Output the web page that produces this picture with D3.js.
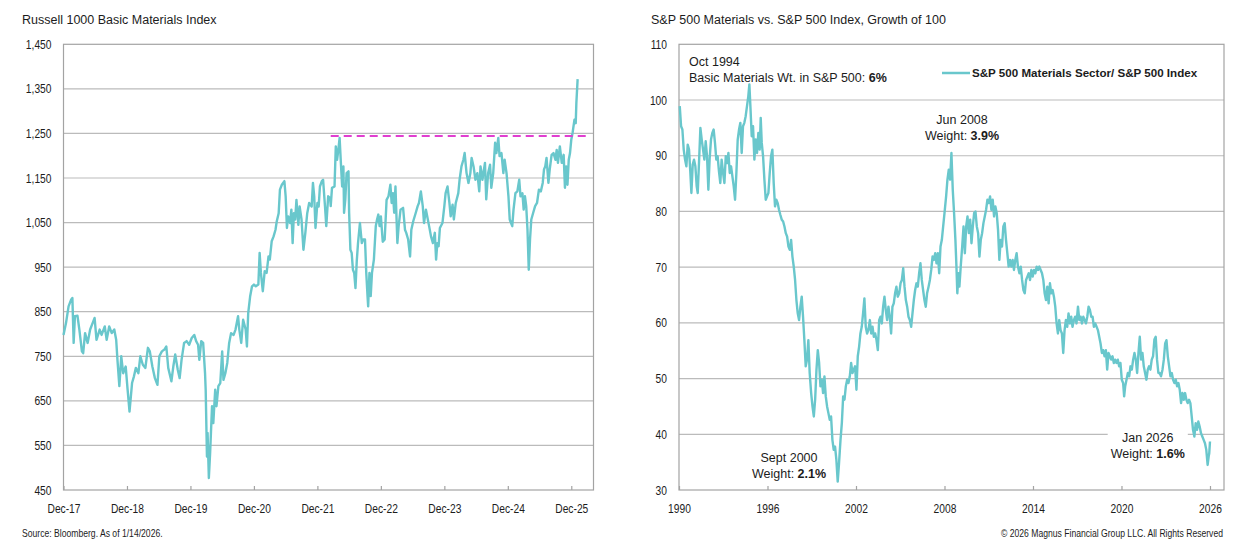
<!DOCTYPE html>
<html>
<head>
<meta charset="utf-8">
<script src="https://cdn.jsdelivr.net/npm/d3@7"></script>
<style>
  body { margin: 0; background: #fff; }
  svg { display: block; }
</style>
</head>
<body>
<div id="chart"></div>
<script>
const FRAME_WIDTH = 1247;
const FRAME_HEIGHT = 548;

const LINE_COLOR = "#69c7cc";
const REF_COLOR = "#e03fd0";
const GRID_COLOR = "#bbbbbb";
const AXIS_COLOR = "#a3a3a3";
const TEXT_COLOR = "#1c1c1c";
const REGULAR = "'Liberation Sans', Arial, sans-serif";

// ---- left panel: Russell 1000 Basic Materials Index (decimal years, Dec-17 = 2018.0)
const rkYears = [
  2018.00,2018.04,2018.08,2018.12,2018.14,2018.16,2018.18,2018.22,2018.25,2018.29,
  2018.31,2018.34,2018.38,2018.42,2018.46,2018.49,2018.52,2018.57,2018.60,2018.65,
  2018.68,2018.72,2018.76,2018.80,2018.83,2018.85,2018.88,2018.91,2018.94,2018.98,
  2019.01,2019.04,2019.08,2019.11,2019.14,2019.18,2019.21,2019.25,2019.29,2019.33,
  2019.36,2019.40,2019.44,2019.48,2019.51,2019.55,2019.59,2019.62,2019.65,2019.70,
  2019.73,2019.76,2019.80,2019.83,2019.86,2019.90,2019.94,2019.98,2020.02,2020.06,
  2020.09,2020.12,2020.14,2020.17,2020.20,2020.23,2020.24,2020.26,2020.27,2020.29,
  2020.31,2020.34,2020.36,2020.39,2020.41,2020.44,2020.47,2020.50,2020.52,2020.55,
  2020.58,2020.61,2020.64,2020.68,2020.71,2020.75,2020.77,2020.80,2020.83,2020.87,
  2020.89,2020.91,2020.94,2020.97,2021.00,2021.03,2021.07,2021.09,2021.11,2021.14,
  2021.17,2021.20,2021.23,2021.25,2021.28,2021.31,2021.34,2021.36,2021.39,2021.41,
  2021.44,2021.48,2021.50,2021.52,2021.54,2021.57,2021.59,2021.61,2021.63,2021.65,
  2021.67,2021.70,2021.72,2021.75,2021.78,2021.81,2021.84,2021.87,2021.91,2021.93,
  2021.95,2021.97,2022.00,2022.02,2022.04,2022.07,2022.09,2022.12,2022.14,2022.17,
  2022.20,2022.21,2022.23,2022.27,2022.29,2022.31,2022.33,2022.35,2022.37,2022.39,
  2022.41,2022.42,2022.44,2022.46,2022.49,2022.50,2022.52,2022.54,2022.56,2022.58,
  2022.60,2022.62,2022.64,2022.67,2022.70,2022.72,2022.75,2022.77,2022.79,2022.80,
  2022.82,2022.84,2022.86,2022.89,2022.92,2022.94,2022.96,2022.98,2023.00,2023.03,
  2023.06,2023.09,2023.12,2023.15,2023.17,2023.19,2023.21,2023.23,2023.26,2023.28,
  2023.31,2023.35,2023.38,2023.40,2023.43,2023.46,2023.48,2023.51,2023.55,2023.58,
  2023.60,2023.63,2023.66,2023.68,2023.71,2023.73,2023.76,2023.79,2023.82,2023.85,
  2023.87,2023.89,2023.91,2023.93,2023.97,2024.00,2024.02,2024.05,2024.08,2024.10,
  2024.13,2024.15,2024.18,2024.22,2024.24,2024.27,2024.30,2024.32,2024.35,2024.38,
  2024.41,2024.43,2024.46,2024.49,2024.52,2024.55,2024.57,2024.60,2024.64,2024.66,
  2024.69,2024.72,2024.74,2024.77,2024.80,2024.82,2024.85,2024.87,2024.90,2024.93,
  2024.95,2024.98,2025.01,2025.03,2025.07,2025.09,2025.12,2025.15,2025.18,2025.20,
  2025.23,2025.25,2025.27,2025.29,2025.31,2025.33,2025.35,2025.37,2025.40,2025.43,
  2025.46,2025.49,2025.52,2025.55,2025.57,2025.59,2025.61,2025.64,2025.66,2025.69,
  2025.72,2025.75,2025.77,2025.79,2025.82,2025.85,2025.88,2025.90,2025.92,2025.94,
  2025.96,2025.98,2026.00,2026.02,2026.05,2026.07,2026.08,2026.10
];
const rkValues = [
  798,825,862,877,881,780,840,841,810,761,
  757,802,780,810,825,836,787,810,798,817,
  787,817,802,810,787,742,683,750,712,727,
  675,626,690,705,724,712,750,731,724,769,
  761,727,701,686,750,761,765,772,724,694,
  727,754,720,701,742,780,784,776,791,798,
  784,776,742,784,780,712,675,525,578,477,
  533,638,600,675,638,683,690,761,697,712,
  735,780,802,798,810,840,810,780,832,810,
  772,847,884,907,911,907,911,982,937,896,
  941,937,974,967,1008,1019,1034,1053,1071,1124,
  1135,1143,1109,1038,1064,1049,1079,1004,1071,1057,
  1101,1045,1086,1057,989,1027,1071,1094,1086,1139,
  1109,1038,1094,1086,1131,1143,1146,1086,1042,1109,
  1105,1087,1128,1131,1221,1191,1213,1240,1184,1131,
  1176,1072,1102,1161,1165,1072,989,982,944,937,
  903,963,1004,1049,1004,1012,1012,937,885,862,
  937,885,937,967,1042,1057,1068,1042,1064,1007,
  1012,1101,1109,1135,1094,1116,1072,1131,1004,1042,
  1079,1083,1034,1027,1012,974,1034,1053,1072,1087,
  1094,1120,1087,1049,1079,1064,1042,1019,1004,1027,
  967,1004,997,1038,1049,1087,1116,1131,1094,1064,
  1090,1057,1094,1116,1146,1176,1191,1206,1161,1139,
  1161,1195,1176,1146,1161,1120,1176,1146,1184,1102,
  1161,1180,1128,1161,1229,1206,1240,1199,1206,1161,
  1191,1161,1109,1057,1042,1079,1116,1120,1146,1109,
  1116,1079,1109,1087,1034,944,1012,1057,1072,1087,
  1094,1124,1120,1139,1169,1176,1195,1139,1169,1202,
  1206,1191,1213,1184,1221,1184,1202,1128,1176,1135,
  1191,1206,1236,1251,1281,1273,1318,1372
];
const rkYTicks = [450, 550, 650, 750, 850, 950, 1050, 1150, 1250, 1350, 1450];
const rkXTicks = [2018, 2019, 2020, 2021, 2022, 2023, 2024, 2025, 2026];
const rkXLabels = ["Dec-17", "Dec-18", "Dec-19", "Dec-20", "Dec-21", "Dec-22", "Dec-23", "Dec-24", "Dec-25"];
// prior high from Apr 2022, carried to the right edge
const rkRefLevel = 1244;
const rkRefSpan = [2022.21, 2026.30];

// ---- right panel: S&P 500 Materials / S&P 500, growth of 100
const spYears = [
  1990.05,1990.14,1990.23,1990.32,1990.41,1990.50,1990.59,1990.68,1990.77,1990.84,
  1990.93,1991.02,1991.11,1991.20,1991.27,1991.36,1991.45,1991.54,1991.63,1991.72,
  1991.81,1991.90,1991.99,1992.08,1992.17,1992.26,1992.35,1992.44,1992.53,1992.62,
  1992.71,1992.80,1992.89,1992.99,1993.08,1993.17,1993.26,1993.35,1993.44,1993.53,
  1993.62,1993.71,1993.80,1993.89,1993.98,1994.07,1994.16,1994.25,1994.34,1994.43,
  1994.52,1994.61,1994.70,1994.77,1994.84,1994.93,1995.02,1995.11,1995.20,1995.29,
  1995.38,1995.47,1995.54,1995.61,1995.70,1995.79,1995.88,1995.97,1996.06,1996.15,
  1996.24,1996.33,1996.42,1996.51,1996.60,1996.69,1996.78,1996.87,1996.97,1997.06,
  1997.15,1997.24,1997.33,1997.42,1997.51,1997.60,1997.69,1997.78,1997.87,1997.96,
  1998.05,1998.14,1998.23,1998.32,1998.41,1998.50,1998.59,1998.68,1998.77,1998.86,
  1998.96,1999.05,1999.14,1999.23,1999.32,1999.41,1999.50,1999.59,1999.68,1999.77,
  1999.86,1999.95,2000.04,2000.13,2000.22,2000.31,2000.40,2000.49,2000.58,2000.67,
  2000.76,2000.85,2000.95,2001.04,2001.13,2001.22,2001.31,2001.40,2001.49,2001.58,
  2001.67,2001.76,2001.85,2001.94,2002.03,2002.12,2002.21,2002.30,2002.39,2002.48,
  2002.57,2002.66,2002.75,2002.84,2002.94,2003.03,2003.12,2003.21,2003.30,2003.39,
  2003.48,2003.57,2003.66,2003.75,2003.84,2003.93,2004.02,2004.11,2004.20,2004.29,
  2004.38,2004.47,2004.56,2004.65,2004.74,2004.83,2004.93,2005.02,2005.11,2005.20,
  2005.29,2005.38,2005.47,2005.56,2005.65,2005.74,2005.83,2005.92,2006.01,2006.10,
  2006.19,2006.28,2006.37,2006.46,2006.55,2006.64,2006.73,2006.82,2006.92,2007.01,
  2007.10,2007.19,2007.28,2007.37,2007.46,2007.55,2007.64,2007.73,2007.82,2007.91,
  2008.00,2008.11,2008.20,2008.29,2008.38,2008.47,2008.56,2008.65,2008.74,2008.81,
  2008.87,2008.95,2009.01,2009.10,2009.20,2009.29,2009.38,2009.47,2009.56,2009.65,
  2009.74,2009.83,2009.92,2010.01,2010.10,2010.19,2010.28,2010.37,2010.46,2010.55,
  2010.64,2010.73,2010.82,2010.91,2011.00,2011.09,2011.18,2011.27,2011.36,2011.45,
  2011.54,2011.63,2011.72,2011.81,2011.90,2011.99,2012.08,2012.17,2012.26,2012.35,
  2012.44,2012.53,2012.62,2012.71,2012.80,2012.89,2012.98,2013.08,2013.17,2013.26,
  2013.35,2013.44,2013.53,2013.62,2013.71,2013.80,2013.89,2013.98,2014.07,2014.16,
  2014.25,2014.34,2014.43,2014.52,2014.61,2014.70,2014.79,2014.88,2014.97,2015.06,
  2015.15,2015.24,2015.33,2015.42,2015.51,2015.60,2015.69,2015.78,2015.87,2015.96,
  2016.05,2016.14,2016.23,2016.32,2016.41,2016.50,2016.59,2016.68,2016.77,2016.86,
  2016.95,2017.05,2017.14,2017.23,2017.32,2017.41,2017.50,2017.59,2017.68,2017.77,
  2017.86,2017.95,2018.04,2018.13,2018.22,2018.31,2018.40,2018.49,2018.58,2018.67,
  2018.76,2018.85,2018.94,2019.03,2019.12,2019.21,2019.30,2019.39,2019.48,2019.57,
  2019.66,2019.75,2019.84,2019.93,2020.02,2020.11,2020.18,2020.25,2020.34,2020.43,
  2020.52,2020.61,2020.70,2020.79,2020.88,2020.97,2021.06,2021.15,2021.24,2021.33,
  2021.42,2021.51,2021.60,2021.69,2021.78,2021.87,2021.96,2022.05,2022.14,2022.23,
  2022.32,2022.41,2022.50,2022.59,2022.68,2022.78,2022.87,2022.96,2023.05,2023.14,
  2023.23,2023.32,2023.41,2023.50,2023.59,2023.68,2023.77,2023.86,2023.95,2024.04,
  2024.13,2024.22,2024.31,2024.40,2024.49,2024.58,2024.67,2024.76,2024.85,2024.94,
  2025.03,2025.12,2025.21,2025.30,2025.39,2025.48,2025.57,2025.66,2025.75,2025.84,
  2025.91,2025.95,2026.00
];
const spValues = [
  98.9,95.3,94.7,91.1,89.3,88.1,92.0,91.1,86.9,83.3,
  88.4,89.3,88.1,84.5,83.3,89.0,95.0,92.9,91.1,89.3,
  92.6,89.9,83.9,89.6,92.9,94.1,94.7,92.3,89.3,89.9,
  87.2,85.1,89.3,86.9,85.1,89.9,88.7,90.5,86.9,88.1,
  86.3,84.5,82.1,86.9,92.9,94.7,95.9,90.5,95.3,95.9,
  97.1,98.9,100.7,102.8,98.9,93.5,95.3,89.3,92.9,90.5,
  94.1,91.1,96.8,92.3,89.9,85.7,82.1,82.7,83.3,86.9,
  89.9,91.1,85.1,80.9,82.1,81.5,80.3,79.4,78.5,78.2,
  77.3,76.1,75.5,73.7,73.1,74.9,71.9,70.1,67.7,64.1,
  61.7,60.5,62.9,64.7,61.1,56.9,52.2,53.4,56.9,51.0,
  47.4,45.0,43.2,46.2,51.6,55.1,52.8,48.6,49.8,47.4,
  50.4,46.8,45.0,43.8,42.6,43.2,39.0,37.2,37.8,35.4,
  31.5,34.8,39.0,42.0,46.8,46.2,48.6,49.8,49.2,50.4,
  52.8,51.0,51.6,52.2,48.0,54.0,55.7,58.1,59.3,61.7,
  64.4,59.3,58.1,58.7,60.5,58.1,59.3,57.5,58.1,56.9,
  55.1,60.5,61.1,59.9,62.9,64.7,62.3,60.5,62.9,61.1,
  58.1,62.9,63.5,65.3,66.5,64.7,65.3,67.1,67.7,69.8,
  66.5,64.1,62.9,61.1,60.5,59.3,61.7,64.1,65.9,67.1,
  66.5,68.9,70.7,67.7,65.9,64.1,62.9,65.3,66.5,67.7,
  69.5,71.9,71.3,72.5,70.7,72.5,68.9,73.7,74.9,77.3,
  79.7,82.7,85.7,87.5,85.7,90.5,83.9,79.7,74.9,70.1,
  65.3,68.9,66.5,70.1,73.7,77.3,72.5,77.3,79.1,76.1,
  78.5,74.3,77.3,79.7,80.0,77.3,76.1,71.9,74.9,76.1,
  77.9,79.1,80.3,82.1,81.5,82.7,80.3,82.1,79.1,80.9,
  79.7,76.7,71.3,74.9,73.7,77.3,77.9,74.9,72.5,70.1,
  71.3,70.1,71.3,69.5,71.3,72.5,70.1,68.9,70.1,67.7,
  65.9,65.3,67.7,68.3,68.9,67.7,69.5,68.3,69.5,68.9,
  70.1,69.5,70.1,69.5,68.9,67.7,65.3,64.1,66.5,63.5,
  67.1,65.3,65.9,64.7,62.9,59.9,58.1,60.5,58.7,58.1,
  54.6,58.7,60.5,59.3,61.7,59.9,61.1,59.3,60.5,61.1,
  59.9,62.9,60.5,61.1,59.9,61.1,60.5,59.9,61.1,62.9,
  62.3,61.1,61.1,59.3,59.9,59.3,58.7,57.5,56.3,54.6,
  55.1,54.0,55.1,51.6,54.6,54.0,53.4,54.0,52.8,53.4,
  52.8,53.4,52.2,52.8,49.8,49.2,46.8,48.6,49.8,51.0,
  50.4,52.2,51.6,53.4,54.6,53.4,51.0,54.6,57.5,53.4,
  54.6,52.2,51.0,49.8,51.6,52.2,51.6,53.4,54.0,57.0,
  57.5,53.4,51.0,51.0,50.4,51.6,53.4,56.3,56.9,54.0,
  52.2,50.4,51.0,49.8,49.2,49.8,48.6,49.2,48.0,45.6,
  47.4,46.2,47.4,46.2,45.6,46.2,45.6,43.2,40.8,39.6,
  42.0,40.8,42.3,41.4,40.2,39.6,39.0,38.4,37.2,34.5,
  36.0,36.6,38.7
];
const spYTicks = [30, 40, 50, 60, 70, 80, 90, 100, 110];
const spXTicks = [1990, 1996, 2002, 2008, 2014, 2020, 2026];
const spXLabels = ["1990", "1996", "2002", "2008", "2014", "2020", "2026"];
const spLegendLabel = "S&P 500 Materials Sector/ S&P 500 Index";

// callouts: [plain, bold] per line, anchored in data units
const spNotes = [
  {t: 1990.68, v: 106.1, anchor: "start",  box: false, lines: [["Oct 1994", ""], ["Basic Materials Wt. in S&P 500: ", "6%"]]},
  {t: 2009.19, v: 95.7,  anchor: "middle", box: false, lines: [["Jun 2008", ""], ["Weight: ", "3.9%"]]},
  {t: 1997.46, v: 35.1,  anchor: "middle", box: false, lines: [["Sept 2000", ""], ["Weight: ", "2.1%"]]},
  {t: 2021.78, v: 38.7,  anchor: "middle", box: true,  lines: [["Jan 2026", ""], ["Weight: ", "1.6%"]]}
];

// narrow font check (Arial Narrow metrics); squeeze the regular face if it is missing
const SQUEEZE = 0.82;
const NARROW_OK = (() => {
  const ctx = document.createElement("canvas").getContext("2d");
  ctx.font = "40px monospace";
  const base = ctx.measureText("Dec-17 1,450 Bloomberg").width;
  ctx.font = "40px 'Liberation Sans Narrow', monospace";
  return ctx.measureText("Dec-17 1,450 Bloomberg").width !== base;
})();

function narrow(sel, size) {
  sel.style("font-size", size + "px");
  if (NARROW_OK) {
    return sel.style("font-family", "'Liberation Sans Narrow', 'Arial Narrow', sans-serif");
  }
  return sel.style("font-family", REGULAR)
    .each(function () {
      const t = d3.select(this);
      t.attr("x", (+t.attr("x") || 0) / SQUEEZE).attr("transform", "scale(" + SQUEEZE + ",1)");
    });
}

const FRAME = d3.select("#chart")
  .append("svg")
    .attr("width", FRAME_WIDTH)
    .attr("height", FRAME_HEIGHT);

function drawPanel(p) {
  const [x0, x1] = p.x.range();
  const [yb, yt] = p.y.range();
  const g = FRAME.append("g");

  // gridlines
  g.selectAll(".grid")
    .data(p.yTicks.slice(1, -1))
    .enter()
    .append("line")
      .attr("x1", x0).attr("x2", x1)
      .attr("y1", d => p.y(d)).attr("y2", d => p.y(d))
      .attr("stroke", GRID_COLOR)
      .attr("stroke-width", 1.2);

  // frame
  g.append("rect")
    .attr("x", x0).attr("y", yt)
    .attr("width", x1 - x0).attr("height", yb - yt)
    .attr("fill", "none")
    .attr("stroke", AXIS_COLOR)
    .attr("stroke-width", 1.2);

  // y axis labels
  const yAxis = g.append("g")
    .attr("transform", "translate(" + x0 + ",0)")
    .call(d3.axisLeft(p.y).tickValues(p.yTicks).tickSize(0).tickPadding(12).tickFormat(p.yFormat));
  yAxis.select(".domain").remove();
  narrow(yAxis.selectAll("text").attr("fill", TEXT_COLOR), 12.5);

  // x axis: short ticks pointing into the plot
  const xAxis = g.append("g")
    .attr("transform", "translate(0," + yb + ")")
    .call(d3.axisBottom(p.x).tickValues(p.xTicks).tickSize(-4).tickSizeOuter(0).tickPadding(14)
      .tickFormat((d, i) => p.xLabels[i]));
  xAxis.select(".domain").remove();
  xAxis.selectAll("line").attr("stroke", AXIS_COLOR).attr("stroke-width", 1.2);
  narrow(xAxis.selectAll("text").attr("fill", TEXT_COLOR), 12.5);

  // title
  g.append("text")
    .attr("x", p.titleX).attr("y", 24)
    .style("font-family", REGULAR).style("font-size", "12.5px")
    .attr("fill", TEXT_COLOR)
    .text(p.title);

  return g;
}

function series(years, values) {
  return years.map((t, i) => ({t: t, v: values[i]}));
}

// ---------- left panel
const X_LEFT = d3.scaleLinear().domain([2018, 2026.35]).range([63.5, 593.5]);
const Y_LEFT = d3.scaleLinear().domain([450, 1450]).range([490, 44.3]);

const left = drawPanel({
  x: X_LEFT, y: Y_LEFT,
  yTicks: rkYTicks, yFormat: d3.format(","),
  xTicks: rkXTicks, xLabels: rkXLabels,
  title: "Russell 1000 Basic Materials Index", titleX: 22
});

left.append("path")
  .datum(series(rkYears, rkValues))
  .attr("d", d3.line().x(d => X_LEFT(d.t)).y(d => Y_LEFT(d.v)))
  .attr("fill", "none")
  .attr("stroke", LINE_COLOR)
  .attr("stroke-width", 2.4)
  .attr("stroke-linejoin", "round");

left.append("line")
  .attr("x1", X_LEFT(rkRefSpan[0])).attr("x2", X_LEFT(rkRefSpan[1]))
  .attr("y1", Y_LEFT(rkRefLevel)).attr("y2", Y_LEFT(rkRefLevel))
  .attr("stroke", REF_COLOR)
  .attr("stroke-width", 2)
  .attr("stroke-dasharray", "8,5");

// ---------- right panel
const X_RIGHT = d3.scaleLinear().domain([1990, 2026.95]).range([679, 1224]);
const Y_RIGHT = d3.scaleLinear().domain([30, 110]).range([490, 44.3]);

const right = drawPanel({
  x: X_RIGHT, y: Y_RIGHT,
  yTicks: spYTicks, yFormat: d3.format("d"),
  xTicks: spXTicks, xLabels: spXLabels,
  title: "S&P 500 Materials vs. S&P 500 Index, Growth of 100", titleX: 651
});

// callouts (white box behind the ones sitting on a gridline)
const notes = right.append("g");
spNotes.forEach(n => {
  const ng = notes.append("g");
  const text = ng.append("text")
    .attr("text-anchor", n.anchor)
    .style("font-family", REGULAR).style("font-size", "12.5px")
    .attr("fill", TEXT_COLOR);
  n.lines.forEach((ln, i) => {
    const row = text.append("tspan")
      .attr("x", X_RIGHT(n.t))
      .attr("y", Y_RIGHT(n.v) + i * 16);
    row.append("tspan").text(ln[0]);
    if (ln[1]) row.append("tspan").attr("font-weight", "bold").text(ln[1]);
  });
  if (n.box) {
    const bb = text.node().getBBox();
    ng.insert("rect", "text")
      .attr("x", bb.x - 3).attr("y", bb.y - 2)
      .attr("width", bb.width + 6).attr("height", bb.height + 4)
      .attr("fill", "#fff");
  }
});

right.append("path")
  .datum(series(spYears, spValues))
  .attr("d", d3.line().x(d => X_RIGHT(d.t)).y(d => Y_RIGHT(d.v)))
  .attr("fill", "none")
  .attr("stroke", LINE_COLOR)
  .attr("stroke-width", 2.4)
  .attr("stroke-linejoin", "round");

// legend
const legend = right.append("g").attr("transform", "translate(942,73)");
legend.append("line")
  .attr("x1", 0).attr("x2", 28)
  .attr("stroke", LINE_COLOR)
  .attr("stroke-width", 2.5);
legend.append("text")
  .attr("x", 30).attr("y", 4.3)
  .style("font-family", REGULAR).style("font-size", "11.6px")
  .attr("font-weight", "bold")
  .attr("fill", TEXT_COLOR)
  .text(spLegendLabel);

// ---------- footer
narrow(FRAME.append("text")
  .attr("x", 22).attr("y", 537)
  .attr("fill", TEXT_COLOR)
  .text("Source: Bloomberg. As of 1/14/2026."), 10.5);

narrow(FRAME.append("text")
  .attr("x", 1223).attr("y", 537)
  .attr("text-anchor", "end")
  .attr("fill", TEXT_COLOR)
  .text("\u00a9 2026 Magnus Financial Group LLC. All Rights Reserved"), 10.5);
</script>
</body>
</html>
